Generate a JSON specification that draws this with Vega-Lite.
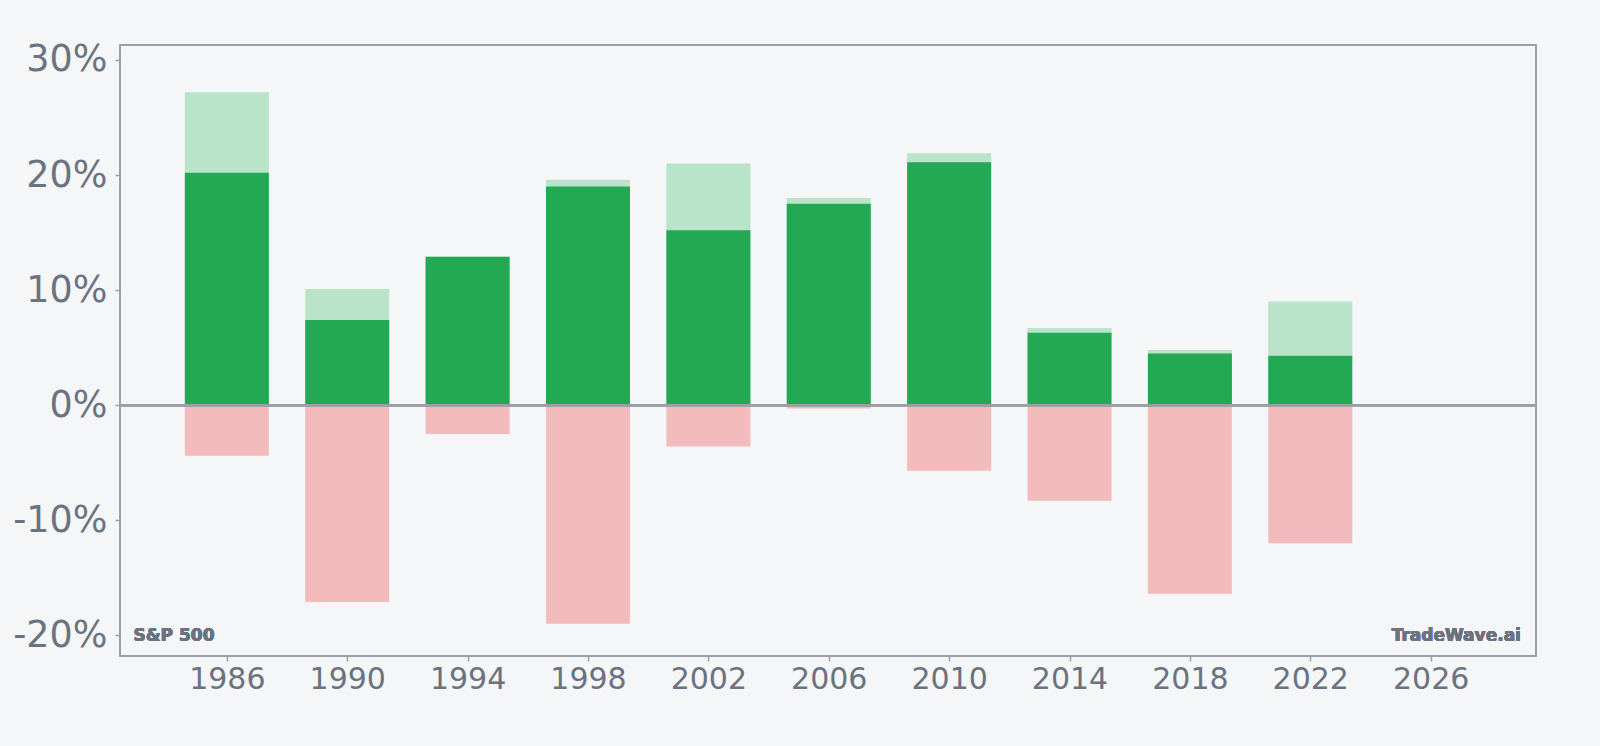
{
  "$schema": "https://vega.github.io/schema/vega-lite/v6.json",
  "width": 1416,
  "height": 611,
  "autosize": {"type": "none"},
  "padding": {"left": 120, "top": 45, "right": 64, "bottom": 90},
  "background": "#f4f6f8",
  "config": {
    "font": "DejaVu Sans",
    "view": {"stroke": "#9c9ea8", "strokeWidth": 2, "fill": "#f4f6f8"},
    "axis": {
      "grid": false,
      "domain": false,
      "tickColor": "#9c9ea8",
      "tickWidth": 1.5,
      "tickSize": 5,
      "labelColor": "#6b7280",
      "labelFont": "DejaVu Sans",
      "title": null
    }
  },
  "data": {
    "values": [
      {"year": 1986, "ret": 20.2, "high": 27.2, "low": -4.4},
      {"year": 1990, "ret": 7.4, "high": 10.1, "low": -17.1},
      {"year": 1994, "ret": 12.9, "high": 12.9, "low": -2.5},
      {"year": 1998, "ret": 19.0, "high": 19.6, "low": -19.0},
      {"year": 2002, "ret": 15.2, "high": 21.0, "low": -3.6},
      {"year": 2006, "ret": 17.5, "high": 18.0, "low": -0.3},
      {"year": 2010, "ret": 21.1, "high": 21.9, "low": -5.7},
      {"year": 2014, "ret": 6.3, "high": 6.7, "low": -8.3},
      {"year": 2018, "ret": 4.5, "high": 4.8, "low": -16.4},
      {"year": 2022, "ret": 4.3, "high": 9.0, "low": -12.0}
    ]
  },
  "encoding": {
    "x": {
      "field": "year",
      "type": "quantitative",
      "scale": {"domain": [1982.45, 2029.5], "nice": false, "zero": false, "padding": 0},
      "axis": {
        "values": [1986, 1990, 1994, 1998, 2002, 2006, 2010, 2014, 2018, 2022, 2026],
        "format": "d",
        "labelFontSize": 30,
        "labelPadding": 3,
        "labelFlush": false
      }
    }
  },
  "layer": [
    {
      "mark": {"type": "bar", "width": 84, "color": "#b9e4c9"},
      "encoding": {
        "y": {
          "field": "high",
          "type": "quantitative",
          "scale": {"domain": [-21.8, 31.3], "nice": false, "zero": false},
          "axis": {
            "values": [-20, -10, 0, 10, 20, 30],
            "labelExpr": "datum.value + '%'",
            "labelFontSize": 36.5,
            "labelPadding": 8,
            "labelFlush": false
          }
        },
        "y2": {"datum": 0}
      }
    },
    {
      "mark": {"type": "bar", "width": 84, "color": "#23a853"},
      "encoding": {
        "y": {"field": "ret", "type": "quantitative"},
        "y2": {"datum": 0}
      }
    },
    {
      "mark": {"type": "bar", "width": 84, "color": "#f3bbbb"},
      "encoding": {
        "y": {"field": "low", "type": "quantitative"},
        "y2": {"datum": 0}
      }
    },
    {
      "mark": {"type": "rule", "color": "#9c9ea8", "strokeWidth": 2},
      "encoding": {"x": null, "y": {"datum": 0}}
    },
    {
      "mark": {"type": "text", "text": "S&P 500", "align": "left", "baseline": "alphabetic", "fontSize": 17, "fontWeight": "bold", "fill": "#6b7280"},
      "encoding": {"x": {"datum": 1982.9}, "y": {"datum": -20.5}}
    },
    {
      "mark": {"type": "text", "text": "TradeWave.ai", "align": "right", "baseline": "alphabetic", "fontSize": 17, "fontWeight": "bold", "fill": "#6b7280"},
      "encoding": {"x": {"datum": 2029.0}, "y": {"datum": -20.5}}
    }
  ]
}
